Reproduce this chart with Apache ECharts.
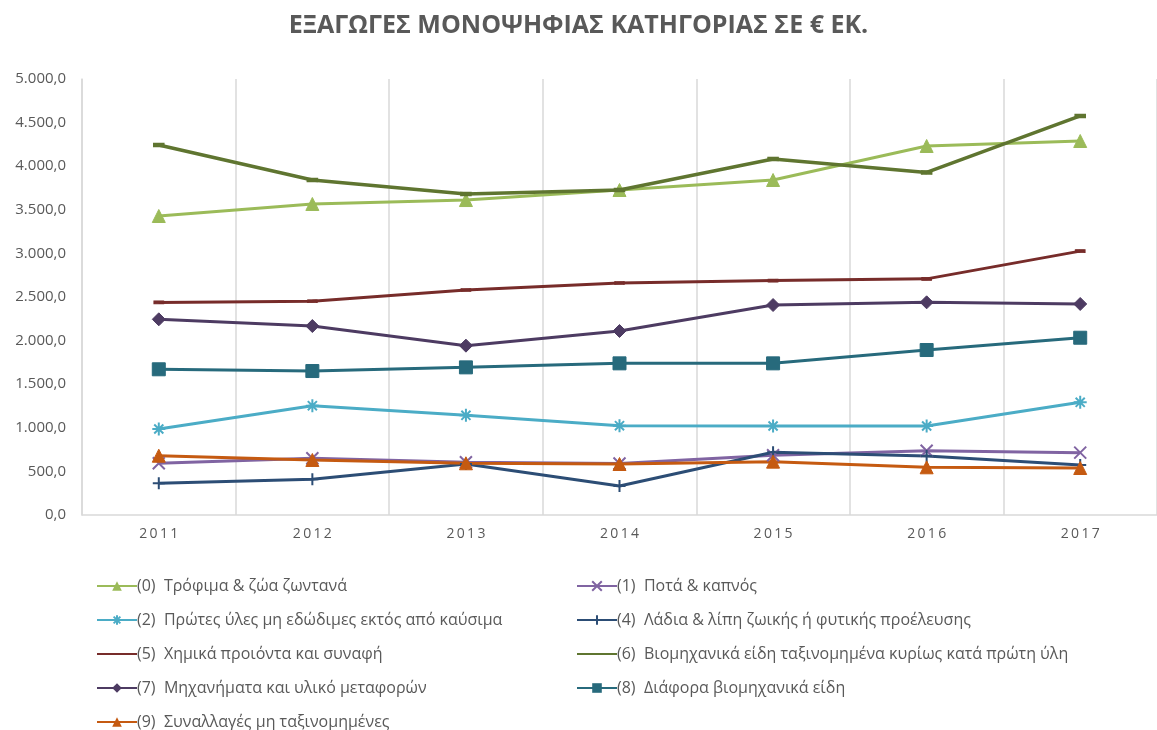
<!DOCTYPE html>
<html lang="el">
<head>
    <meta charset="UTF-8">
    <title>Εξαγωγές μονοψήφιας κατηγορίας</title>
    <script src="https://cdn.jsdelivr.net/npm/echarts@6/dist/echarts.min.js"></script>
    <style>
        html, body { margin: 0; padding: 0; background: #fff; }
        #container { width: 1157px; height: 730px; }
    </style>
</head>
<body>
<div id="container"></div>
<script type="text/javascript">
    // έτη
    let years = ['2011', '2012', '2013', '2014', '2015', '2016', '2017'];

    // τιμές ανά κατηγορία (εκ. €)
    let cat0 = [3429, 3567, 3612, 3727, 3842, 4232, 4289];
    let cat1 = [593, 650, 605, 590, 685, 737, 715];
    let cat2 = [986, 1254, 1143, 1024, 1021, 1021, 1292];
    let cat4 = [363, 409, 585, 333, 719, 677, 573];
    let cat5 = [2438, 2452, 2580, 2661, 2688, 2708, 3026];
    let cat6 = [4243, 3842, 3681, 3727, 4083, 3928, 4576];
    let cat7 = [2244, 2167, 1942, 2110, 2408, 2439, 2420];
    let cat8 = [1671, 1651, 1693, 1739, 1739, 1892, 2033];
    let cat9 = [680, 631, 593, 585, 612, 547, 539];

    let names = [
        '(0)  Τρόφιμα & ζώα ζωντανά',
        '(1)  Ποτά & καπνός',
        '(2)  Πρώτες ύλες μη εδώδιμες εκτός από καύσιμα',
        '(4)  Λάδια & λίπη ζωικής ή φυτικής προέλευσης',
        '(5)  Χημικά προιόντα και συναφή',
        '(6)  Βιομηχανικά είδη ταξινομημένα κυρίως κατά πρώτη ύλη',
        '(7)  Μηχανήματα και υλικό μεταφορών',
        '(8)  Διάφορα βιομηχανικά είδη',
        '(9)  Συναλλαγές μη ταξινομημένες'
    ];

    let fmt = function (v) {
        let s = v.toFixed(1).split('.');
        return s[0].replace(/\B(?=(\d{3})+(?!\d))/g, '.') + ',' + s[1];
    };

    let mkLine = function (name, data, color, symbol, size, width) {
        return {
            name: name,
            type: 'line',
            data: data,
            symbol: symbol,
            symbolSize: size,
            lineStyle: { color: color, width: width },
            itemStyle: { color: color, borderColor: color },
            emphasis: { disabled: true },
            z: 3
        };
    };

    // marqueurs Excel approximés
    let cross = 'path://M0,0 L10,10 M10,0 L0,10';
    let star = 'path://M5,0 L5,10 M0,5 L10,5 M1.5,1.5 L8.5,8.5 M8.5,1.5 L1.5,8.5';
    let plus = 'path://M5,0 L5,10 M0,5 L10,5';

    let series = [
        mkLine(names[0], cat0, '#9BBB59', 'triangle', 13, 3),
        mkLine(names[1], cat1, '#8064A2', cross, 12, 3),
        mkLine(names[2], cat2, '#4BACC6', star, 13, 3),
        mkLine(names[3], cat4, '#2C4D75', plus, 12, 3),
        mkLine(names[4], cat5, '#772C2A', 'rect', [9, 3], 3),
        mkLine(names[5], cat6, '#5F7530', 'rect', [10, 4], 3.5),
        mkLine(names[6], cat7, '#4D3B62', 'diamond', 13, 3),
        mkLine(names[7], cat8, '#276A7C', 'rect', 13, 3),
        mkLine(names[8], cat9, '#C55A11', 'triangle', 13, 3)
    ];
    // les croix sont des traits : couleur par stroke
    [1, 2, 3].forEach(function (i) {
        series[i].itemStyle = { color: 'transparent', borderColor: series[i].lineStyle.color, borderWidth: 2 };
    });

    // (5) et (6) : ligne seule dans la légende
    let plainItem = function (n) {
        return { name: n, itemStyle: { opacity: 0 } };
    };

    let legendBase = {
        orient: 'vertical',
        top: 578,
        height: 170,
        padding: 0,
        itemGap: 18,
        itemWidth: 40,
        itemHeight: 12,
        textStyle: { color: '#595959', fontSize: 16, fontFamily: 'Open Sans', padding: [0, 0, 0, -5] },
        selectedMode: false
    };

    let chart = echarts.init(document.getElementById('container'));
    chart.setOption({
        animation: false,
        title: {
            text: 'ΕΞΑΓΩΓΕΣ ΜΟΝΟΨΗΦΙΑΣ ΚΑΤΗΓΟΡΙΑΣ ΣΕ € ΕΚ.',
            left: 'center',
            top: 8,
            textStyle: { color: '#595959', fontSize: 25, fontWeight: 'bold', fontFamily: 'Open Sans' }
        },
        legend: [
            Object.assign({}, legendBase, { left: 96, data: [names[0], names[2], plainItem(names[4]), names[6], names[8]] }),
            Object.assign({}, legendBase, { left: 576, data: [names[1], names[3], plainItem(names[5]), names[7]] })
        ],
        grid: {
            left: 82,
            top: 79,
            width: 1078,
            bottom: 215
        },
        xAxis: {
            type: 'category',
            data: years,
            boundaryGap: true,
            axisLine: { lineStyle: { color: '#D9D9D9', width: 1.5 } },
            axisTick: { show: false },
            axisLabel: {
                color: '#595959', fontSize: 14, fontFamily: 'Open Sans', margin: 12,
                formatter: function (v) { return v.split('').join('\u2009'); }
            },
            splitLine: { show: true, interval: 0, lineStyle: { color: '#D9D9D9', width: 1.5 } }
        },
        yAxis: {
            type: 'value',
            min: 0,
            max: 5000,
            interval: 500,
            axisLine: { show: true, lineStyle: { color: '#D9D9D9', width: 1.5 } },
            axisTick: { show: false },
            splitLine: { show: false },
            axisLabel: {
                color: '#595959', fontSize: 15, fontFamily: 'Open Sans', margin: 16,
                formatter: fmt
            }
        },
        series: series
    });
</script>
</body>
</html>
